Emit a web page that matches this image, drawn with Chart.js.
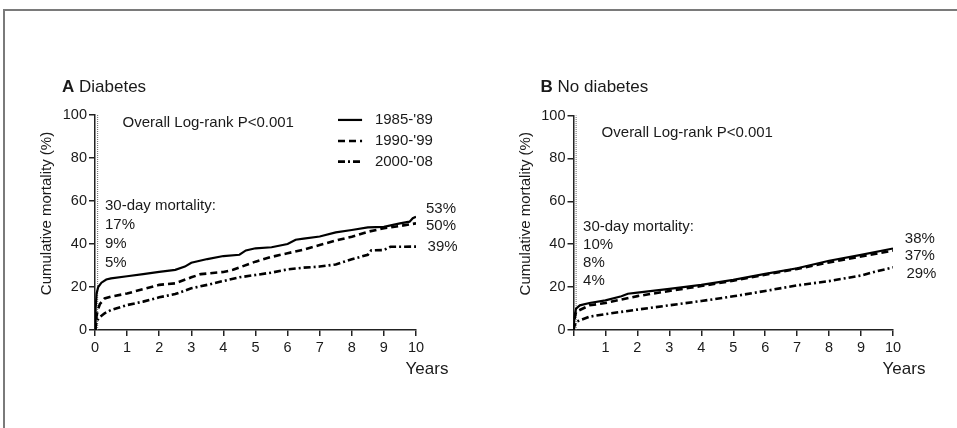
<!DOCTYPE html>
<html>
<head>
<meta charset="utf-8">
<script src="https://cdn.jsdelivr.net/npm/chart.js@4.4.0/dist/chart.umd.min.js"></script>
<style>
  html, body { margin: 0; padding: 0; background: #fff; }
  body { width: 957px; height: 428px; position: relative; overflow: hidden; }
  .frame { position: absolute; left: 3px; top: 9px; right: -10px; bottom: -10px;
           border-top: 2px solid #7a7a7a; border-left: 2px solid #7a7a7a; }
  canvas { position: absolute; top: 0; }
  #chartA { left: 0; }
  #chartB { left: 478px; }
</style>
</head>
<body>
<div class="frame"></div>
<canvas id="chartA" width="478" height="428"></canvas>
<canvas id="chartB" width="479" height="428"></canvas>
<script>
const FONT = '"Liberation Sans", Arial, sans-serif';
const INK = '#1a1a1a';

const periods = ["1985-'89", "1990-'99", "2000-'08"];
const xTicks = [0, 1, 2, 3, 4, 5, 6, 7, 8, 9, 10];   // years
const yTicks = [0, 20, 40, 60, 80, 100];            // %

// A: diabetes
const yearsA85 = [0, 0.02, 0.05, 0.1, 0.2, 0.35, 0.5, 1, 1.5, 2, 2.5, 2.8, 3, 3.5, 4, 4.5, 4.7, 5, 5.5, 6, 6.25, 6.5, 7, 7.5, 8, 8.5, 9, 9.5, 9.8, 9.9, 10];
const mortA85  = [0, 10, 17, 20, 22, 23.5, 24, 25, 26, 27, 28, 29.5, 31.3, 33, 34.4, 35, 37, 38, 38.5, 40, 42, 42.5, 43.5, 45.4, 46.5, 47.7, 48, 49.6, 50.4, 52, 52.7];
const yearsA90 = [0, 0.03, 0.08, 0.15, 0.3, 0.5, 1, 1.5, 2, 2.5, 3, 3.3, 4, 4.3, 5, 5.5, 6, 6.5, 7, 7.5, 8, 8.5, 9, 9.5, 10];
const mortA90  = [0, 5, 9, 12, 14.7, 15.5, 17, 19, 21, 21.7, 24.5, 26, 27, 28, 31.8, 34, 35.7, 37.4, 39.5, 41.6, 43.4, 45.7, 47.3, 48.4, 49.6];
const yearsA00 = [0, 0.03, 0.08, 0.15, 0.3, 0.5, 1, 1.5, 2, 2.5, 3, 3.5, 4, 4.5, 5, 5.5, 6, 6.5, 7, 7.5, 8, 8.5, 8.6, 9, 9.2, 10];
const mortA00  = [0, 2.5, 4.7, 6, 7.8, 9.3, 11.6, 13.2, 15.2, 16.7, 19.4, 21, 22.8, 24.5, 25.6, 26.7, 28.2, 29, 29.5, 30.5, 32.9, 35, 37, 37.2, 38.7, 38.8];

// B: no diabetes
const yearsB85 = [0, 0.03, 0.08, 0.2, 0.5, 1, 1.5, 1.7, 2, 3, 4, 5, 6, 7, 8, 9, 10];
const mortB85  = [0, 6, 10, 11.5, 12.6, 13.8, 15.7, 16.9, 17.4, 19.2, 21, 23.4, 26.2, 28.8, 32.3, 35, 38];
const yearsB90 = [0, 0.03, 0.08, 0.5, 1, 2, 3, 4, 5, 6, 7, 8, 9, 10];
const mortB90  = [0, 5, 8.5, 11.5, 12.6, 15.8, 18.2, 20.5, 23, 25.8, 28.5, 31.5, 34.3, 37];
const yearsB00 = [0, 0.03, 0.08, 0.5, 1, 2, 3, 4, 5, 6, 7, 8, 9, 9.5, 10];
const mortB00  = [0, 2, 3.8, 6.2, 7.4, 9.5, 11.5, 13.5, 15.7, 18.2, 20.8, 22.8, 25.4, 27.4, 29.2];

const thirtyDayA = ['17%', '9%', '5%'];
const thirtyDayB = ['10%', '8%', '4%'];
const tenYearA = ['53%', '50%', '39%'];
const tenYearB = ['38%', '37%', '29%'];

// line styles per period
const dashes = [[], [7, 4], [7, 3, 2, 3]];
const widths = [2.2, 2.6, 2.6];

function pts(xs, ys) {
  return xs.map((x, i) => ({ x: x, y: ys[i] }));
}

function makeSets(series) {
  return series.map((s, i) => ({
    label: periods[i],
    data: pts(s[0], s[1]),
    borderColor: '#000',
    borderWidth: widths[i],
    borderDash: dashes[i],
    pointRadius: 0,
    fill: false,
    tension: 0
  }));
}

// texts drawn on top of the plot
const notesPlugin = {
  id: 'notes',
  beforeDatasetsDraw(chart) {
    // dotted line at 30 days
    const { ctx, scales: { x, y } } = chart;
    const px = x.getPixelForValue(30 / 365);
    ctx.save();
    ctx.strokeStyle = '#666';
    ctx.lineWidth = 1;
    ctx.setLineDash([1, 1]);
    ctx.beginPath();
    ctx.moveTo(px, y.getPixelForValue(0));
    ctx.lineTo(px, y.getPixelForValue(100));
    ctx.stroke();
    ctx.restore();
  },
  afterDraw(chart) {
    const n = chart.options.plugins.notes;
    const { ctx, chartArea: a, scales: { x, y } } = chart;
    ctx.save();
    ctx.fillStyle = INK;
    ctx.textBaseline = 'middle';

    // panel title
    ctx.textAlign = 'left';
    ctx.font = 'bold 17px ' + FONT;
    ctx.fillText(n.letter, a.left - 33, a.top - 28);
    const w = ctx.measureText(n.letter + ' ').width;
    ctx.font = '17px ' + FONT;
    ctx.fillText(n.title, a.left - 33 + w, a.top - 28);

    // y title
    ctx.save();
    ctx.font = '15px ' + FONT;
    ctx.translate(a.left - 48, (a.top + a.bottom) / 2 - 9);
    ctx.rotate(-Math.PI / 2);
    ctx.textAlign = 'center';
    ctx.fillText('Cumulative mortality (%)', 0, 0);
    ctx.restore();

    // x title
    ctx.font = '17px ' + FONT;
    ctx.textAlign = 'center';
    ctx.fillText('Years', a.right + 11, a.bottom + 39);

    ctx.font = '15px ' + FONT;
    ctx.textAlign = 'left';
    ctx.fillText('Overall Log-rank P<0.001', x.getPixelForValue(n.logrank[0]), y.getPixelForValue(n.logrank[1]));

    // 30-day mortality block
    const tx = x.getPixelForValue(n.thirty[0]);
    let ty = y.getPixelForValue(n.thirty[1]);
    ctx.fillText('30-day mortality:', tx, ty);
    n.thirtyVals.forEach(t => { ty += n.thirty[2]; ctx.fillText(t, tx, ty); });

    // 10-year labels
    n.endVals.forEach((t, i) => {
      ctx.fillText(t, x.getPixelForValue(n.endX[i]), y.getPixelForValue(n.endY[i]));
    });

    // legend
    if (n.legend) {
      chart.data.datasets.forEach((ds, i) => {
        const ly = y.getPixelForValue(n.legend.y[i]);
        ctx.save();
        ctx.strokeStyle = '#000';
        ctx.lineWidth = ds.borderWidth;
        ctx.setLineDash(ds.borderDash);
        ctx.beginPath();
        ctx.moveTo(x.getPixelForValue(n.legend.x0), ly);
        ctx.lineTo(x.getPixelForValue(n.legend.x1), ly);
        ctx.stroke();
        ctx.restore();
        ctx.fillText(ds.label, x.getPixelForValue(n.legend.tx), ly);
      });
    }
    ctx.restore();
  }
};

function makeChart(id, sets, notes, showZero, pad) {
  const tickFont = { family: FONT, size: 14.5 };
  return new Chart(document.getElementById(id).getContext('2d'), {
    type: 'line',
    data: { datasets: sets },
    options: {
      responsive: false,
      animation: false,
      events: [],
      layout: { padding: pad },
      plugins: { legend: { display: false }, tooltip: { enabled: false }, title: { display: false }, notes: notes },
      scales: {
        x: {
          type: 'linear', min: 0, max: 10,
          afterBuildTicks: s => { s.ticks = xTicks.map(v => ({ value: v })); },
          afterFit: s => { s.height = 40; },
          ticks: { color: INK, font: tickFont, padding: 3, maxRotation: 0, autoSkip: false,
                   callback: v => (showZero || v !== 0) ? v : '' },
          grid: { drawOnChartArea: false, tickLength: 6, color: '#222', lineWidth: 1.5 },
          border: { color: '#222', width: 1.5 }
        },
        y: {
          min: 0, max: 100,
          afterBuildTicks: s => { s.ticks = yTicks.map(v => ({ value: v })); },
          afterFit: s => { s.width = 45; },
          ticks: { color: INK, font: tickFont, padding: 2, autoSkip: false },
          grid: { drawOnChartArea: false, tickLength: 6, color: '#222', lineWidth: 1.5 },
          border: { color: '#222', width: 1.5 }
        }
      }
    },
    plugins: [notesPlugin]
  });
}

makeChart('chartA',
  makeSets([[yearsA85, mortA85], [yearsA90, mortA90], [yearsA00, mortA00]]),
  {
    letter: 'A', title: 'Diabetes',
    logrank: [0.86, 96.3],
    thirty: [0.31, 57.7, 19], thirtyVals: thirtyDayA,
    endVals: tenYearA, endX: [10.31, 10.31, 10.36], endY: [56.3, 48.4, 38.6],
    legend: { x0: 7.57, x1: 8.32, tx: 8.72, y: [97.7, 87.9, 78.3] }
  },
  true, { left: 50, top: 115, right: 62, bottom: 58 });

makeChart('chartB',
  makeSets([[yearsB85, mortB85], [yearsB90, mortB90], [yearsB00, mortB00]]),
  {
    letter: 'B', title: 'No diabetes',
    logrank: [0.88, 92],
    thirty: [0.3, 48, 18], thirtyVals: thirtyDayB,
    endVals: tenYearB, endX: [10.37, 10.37, 10.42], endY: [42.3, 34.5, 26.1],
    legend: null
  },
  false, { left: 50.5, top: 115.5, right: 64, bottom: 58 });
</script>
</body>
</html>
